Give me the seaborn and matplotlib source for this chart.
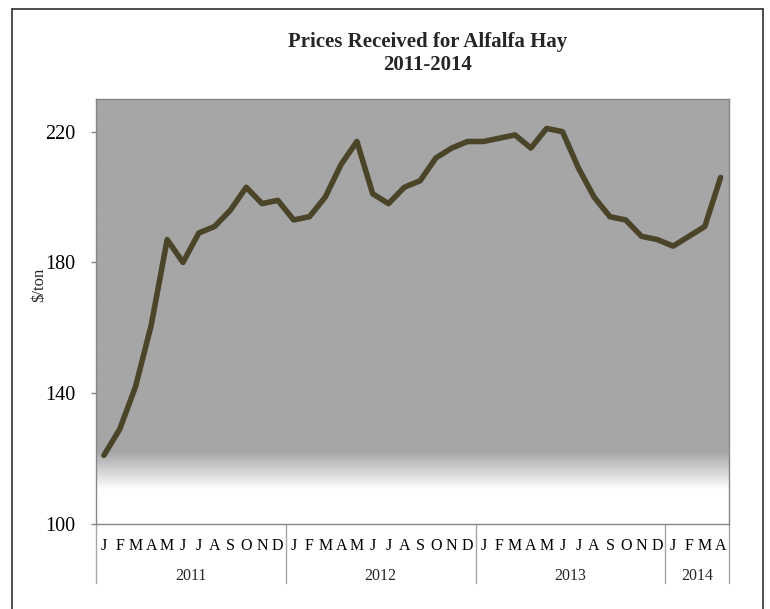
import numpy as np
import pandas as pd
import seaborn as sns
import matplotlib.pyplot as plt
import matplotlib.transforms as mtransforms
from matplotlib.colors import LinearSegmentedColormap
from matplotlib.lines import Line2D

sns.set_theme(style="white")
plt.rcParams["font.family"] = ["Liberation Serif", "DejaVu Serif"]

# Monthly prices received, $/ton
years = ["2011", "2012", "2013", "2014"]
months_per_year = [12, 12, 12, 4]
month_letters = ["J", "F", "M", "A", "M", "J", "J", "A", "S", "O", "N", "D"]
price_2011 = [121, 129, 142, 161, 187, 180, 189, 191, 196, 203, 198, 199]
price_2012 = [193, 194, 200, 210, 217, 201, 198, 203, 205, 212, 215, 217]
price_2013 = [217, 218, 219, 215, 221, 220, 209, 200, 194, 193, 188, 187]
price_2014 = [185, 188, 191, 206]

prices = price_2011 + price_2012 + price_2013 + price_2014
labels = [m for n in months_per_year for m in month_letters[:n]]
df = pd.DataFrame({"month": np.arange(len(prices)), "price": prices})

fig = plt.figure(figsize=(7.7, 6.09), dpi=100)
ax = fig.add_axes([96 / 770, 1 - 524 / 609, (728.5 - 96) / 770, 425 / 609])

# gray plot area fading to white at the bottom
frac = np.linspace(0, 1, 500)
shade = np.clip((frac - 0.08) / (0.17 - 0.08), 0, 1)
bg_cmap = LinearSegmentedColormap.from_list("bg", ["white", "#a6a6a6"])
ax.imshow(shade[:, None], cmap=bg_cmap, vmin=0, vmax=1, origin="lower",
          aspect="auto", extent=[0, 1, 0, 1], transform=ax.transAxes,
          zorder=0, interpolation="bilinear")

sns.lineplot(data=df, x="month", y="price", color="#4a4429", linewidth=4,
             ax=ax, zorder=3)

ax.set_xlim(-0.5, len(prices) - 0.5)
ax.set_ylim(100, 230)
ax.set_yticks([100, 140, 180, 220])
ax.set_xticks(df["month"])
ax.set_xticklabels(labels)
ax.set_xlabel("")
ax.set_ylabel("")
ax.tick_params(axis="x", length=0, pad=10, labelsize=11.5, colors="black")
ax.tick_params(axis="y", length=3.6, width=1, pad=11, labelsize=14.5,
               color="#868686", labelcolor="black", left=True)
for spine in ax.spines.values():
    spine.set_color("#868686")
    spine.set_linewidth(1)

# year groups under the month letters
trans = mtransforms.blended_transform_factory(ax.transData, ax.transAxes)
start = 0
bounds = [-0.5]
for year, n in zip(years, months_per_year):
    ax.text(start + (n - 1) / 2, -0.123, year, transform=trans, ha="center",
            va="center", fontsize=11.5)
    start += n
    bounds.append(start - 0.5)
for b in bounds:
    ax.plot([b, b], [0, -0.139], transform=trans, color="#a6a6a6", lw=1,
            clip_on=False)

fig.text(39 / 770, 1 - 285 / 609, "$/ton", rotation=90, ha="center",
         va="center", fontsize=12)
fig.text(428 / 770, 1 - 42 / 609, "Prices Received for Alfalfa Hay",
         ha="center", va="center", fontsize=15, fontweight="bold")
fig.text(428 / 770, 1 - 65 / 609, "2011-2014", ha="center", va="center",
         fontsize=15, fontweight="bold")

# outer chart border (bottom edge falls outside the image)
for xs, ys in [([12, 12], [0, 9]), ([12, 763], [9, 9]), ([763, 763], [9, 0])]:
    fig.add_artist(Line2D([x / 770 for x in xs], [1 - y / 609 if y else 0 for y in ys],
                          color="#303030", lw=1.2))

fig.savefig("out.png", dpi=100)
